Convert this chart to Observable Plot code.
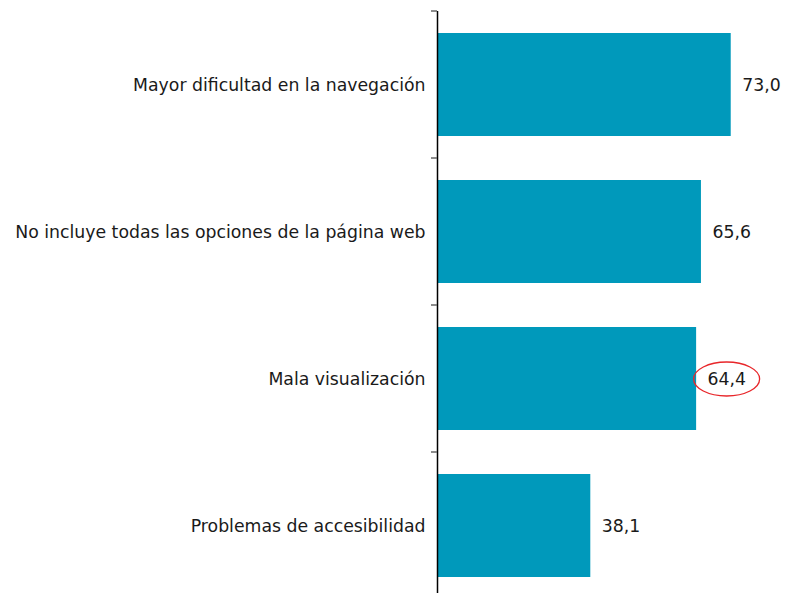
<!DOCTYPE html>
<html>
<head>
<meta charset="utf-8">
<script src="https://cdn.jsdelivr.net/npm/d3@7"></script>
<script src="https://cdn.jsdelivr.net/npm/@observablehq/plot@0.6"></script>
<style>
  html, body { margin: 0; padding: 0; background: #fff; overflow: hidden; }
  #chart svg { display: block; font-family: "DejaVu Sans", Verdana, sans-serif; }
</style>
</head>
<body>
<div id="chart"></div>
<script>
const categories = [
  "Mayor dificultad en la navegación",
  "No incluye todas las opciones de la página web",
  "Mala visualización",
  "Problemas de accesibilidad"
];
const values = [73.0, 65.6, 64.4, 38.1];
const highlighted = ["Mala visualización"];

const data = categories.map((c, i) => ({category: c, value: values[i]}));
const fmt = v => v.toFixed(1).replace(".", ",");

// ellipse symbol for the highlight
const ellipseSymbol = {
  draw(ctx, size) {
    const rx = 33, ry = 17, k = 0.5523;
    ctx.moveTo(rx, 0);
    ctx.bezierCurveTo(rx, ry * k, rx * k, ry, 0, ry);
    ctx.bezierCurveTo(-rx * k, ry, -rx, ry * k, -rx, 0);
    ctx.bezierCurveTo(-rx, -ry * k, -rx * k, -ry, 0, -ry);
    ctx.bezierCurveTo(rx * k, -ry, rx, -ry * k, rx, 0);
    ctx.closePath();
  }
};

// tick marks at band boundaries
function bandTicks(index, scales, values, dimensions) {
  const y = scales.y;
  const step = y.step(), bw = y.bandwidth();
  const dom = y.domain();
  const pos = dom.map(d => y(d) - (step - bw) / 2);
  pos.push(y(dom[dom.length - 1]) + bw + (step - bw) / 2);
  const x0 = scales.x(0);
  const g = d3.create("svg:g");
  g.selectAll("line").data(pos).join("line")
    .attr("x1", x0 - 6).attr("x2", x0)
    .attr("y1", d => d).attr("y2", d => d)
    .attr("stroke", "#666").attr("stroke-width", 1.5);
  return g.node();
}

const FS = 17.3;

const chart = Plot.plot({
  width: 785,
  height: 593,
  marginLeft: 437,
  marginRight: 6,
  marginTop: 11,
  marginBottom: 0,
  style: {fontSize: FS + "px", fontFamily: "DejaVu Sans, Verdana, sans-serif", color: "#1a1a1a"},
  x: {domain: [0, 85], axis: null},
  y: {domain: categories, range: [11, 599], paddingInner: 0.3, paddingOuter: 0.15, label: null},
  marks: [
    Plot.barX(data, {x: "value", y: "category", fill: "#0099bb"}),
    Plot.axisY({tickSize: 0, tickPadding: 12, fontSize: FS, label: null}),
    Plot.ruleX([0], {stroke: "#000", strokeWidth: 1.5}),
    bandTicks,
    Plot.text(data, {x: "value", y: "category", text: d => fmt(d.value), textAnchor: "start", dx: 11, fontSize: FS, fill: "#1a1a1a"}),
    Plot.dot(data.filter(d => highlighted.includes(d.category)), {x: "value", y: "category", dx: 30, symbol: ellipseSymbol, stroke: "#e8262a", strokeWidth: 1.3, fill: "none"})
  ]
});
document.getElementById("chart").append(chart);
</script>
</body>
</html>
